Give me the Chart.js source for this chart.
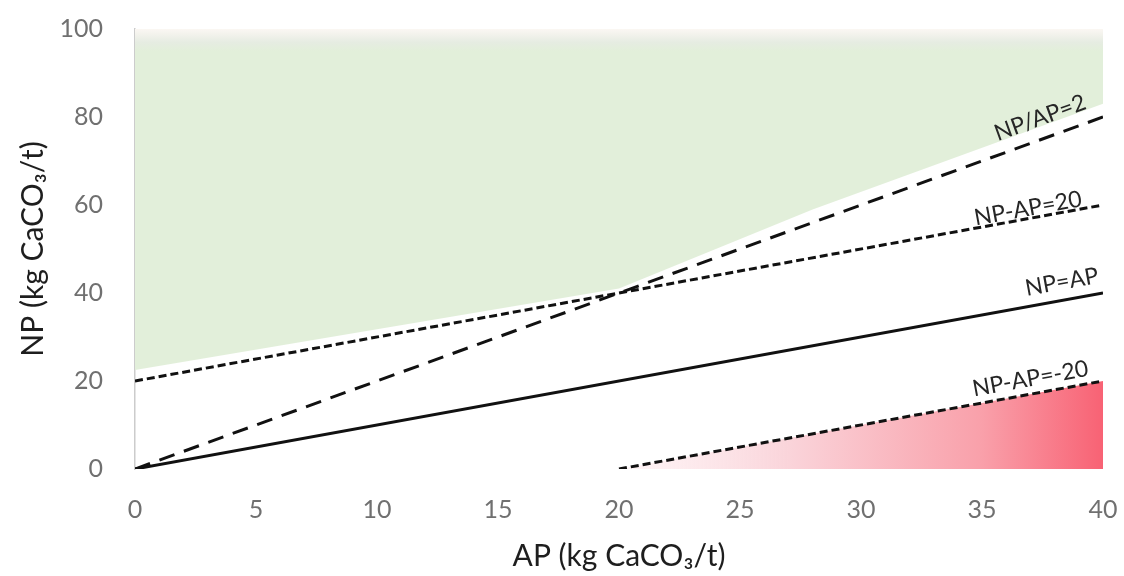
<!DOCTYPE html>
<html>
<head>
<meta charset="utf-8">
<script src="https://cdn.jsdelivr.net/npm/chart.js@4.4.0/dist/chart.umd.min.js"></script>
<style>
  body { margin: 0; background: #fff; }
  #wrap { width: 1124px; height: 576px; }
</style>
</head>
<body>
<div id="wrap"><canvas id="acidChart"></canvas></div>
<script>
// AP on x, NP on y, both kg CaCO3/t
const apEnds = [0, 40];
const npEqualAp = [0, 40];
const npRatio2 = [0, 80];
const npPlus20 = [20, 60];
const apMinus20 = [20, 40];
const npMinus20 = [0, 20];
// lower edge of the green (non acid) zone, just above the lines
const safeAp = [0, 20, 28, 40];
const safeNp = [22.5, 41, 59, 83];

const apTicks = [0, 5, 10, 15, 20, 25, 30, 35, 40];
const npTicks = [0, 20, 40, 60, 80, 100];

// text on the lines, placed at data coords
const lineLabels = ['NP/AP=2', 'NP-AP=20', 'NP=AP', 'NP-AP=-20'];
const labelAp = [37.4, 36.9, 38.3, 37.0];
const labelNp = [79.8, 59.2, 42.5, 20.5];
const labelSlope = [2, 1, 1, 1];

const pts = (xs, ys) => xs.map((x, i) => ({ x: x, y: ys[i] }));

const lineLabelPlugin = {
  id: 'lineLabels',
  afterDatasetsDraw (chart) {
    const { ctx, scales: { x, y } } = chart;
    const pxPerAp = (x.getPixelForValue(40) - x.getPixelForValue(0)) / 40;
    const pxPerNp = (y.getPixelForValue(0) - y.getPixelForValue(100)) / 100;
    ctx.save();
    ctx.font = '23px Lato, "Noto Sans", sans-serif';
    ctx.fillStyle = '#262626';
    ctx.textAlign = 'center';
    ctx.textBaseline = 'middle';
    lineLabels.forEach((text, i) => {
      ctx.save();
      ctx.translate(x.getPixelForValue(labelAp[i]), y.getPixelForValue(labelNp[i]));
      ctx.rotate(-Math.atan(labelSlope[i] * pxPerNp / pxPerAp));
      ctx.fillText(text, 0, 0);
      ctx.restore();
    });
    ctx.restore();
  }
};

function greenFill (context) {
  const { chart } = context;
  const area = chart.chartArea;
  if (!area) return '#e2efda';
  const g = chart.ctx.createLinearGradient(0, area.top, 0, area.bottom);
  g.addColorStop(0, '#fbf7f3');
  g.addColorStop(0.03, '#e6ece2');
  g.addColorStop(0.05, '#e2efda');
  g.addColorStop(1, '#e2efda');
  return g;
}

function redFill (context) {
  const { chart } = context;
  if (!chart.chartArea) return 'rgba(248,100,118,0.6)';
  const x = chart.scales.x;
  const g = chart.ctx.createLinearGradient(x.getPixelForValue(20), 0, x.getPixelForValue(40), 0);
  g.addColorStop(0, 'rgba(253,235,238,0.5)');
  g.addColorStop(0.35, 'rgb(250,212,218)');
  g.addColorStop(0.75, 'rgb(249,160,170)');
  g.addColorStop(1, 'rgb(248,98,116)');
  return g;
}

const tickFont = { family: 'Lato, "Noto Sans", sans-serif', size: 25 };
const titleFont = { family: 'Lato, "Noto Sans", sans-serif', size: 30, lineHeight: 1.2 };

new Chart(document.getElementById('acidChart'), {
  type: 'scatter',
  data: {
    datasets: [
      {
        label: 'safe zone',
        data: pts(safeAp, safeNp),
        showLine: true,
        borderWidth: 0,
        pointRadius: 0,
        fill: 'end',
        backgroundColor: greenFill,
        order: 10
      },
      {
        label: 'acid zone',
        data: pts(apMinus20, npMinus20),
        showLine: true,
        borderWidth: 0,
        pointRadius: 0,
        fill: 'origin',
        backgroundColor: redFill,
        order: 9
      },
      {
        label: 'NP/AP=2',
        data: pts(apEnds, npRatio2),
        showLine: true,
        borderColor: '#111',
        borderWidth: 3,
        borderDash: [16, 10],
        pointRadius: 0,
        order: 1
      },
      {
        label: 'NP-AP=20',
        data: pts(apEnds, npPlus20),
        showLine: true,
        borderColor: '#111',
        borderWidth: 3,
        borderDash: [8, 4],
        pointRadius: 0,
        order: 1
      },
      {
        label: 'NP=AP',
        data: pts(apEnds, npEqualAp),
        showLine: true,
        borderColor: '#111',
        borderWidth: 3,
        pointRadius: 0,
        order: 1
      },
      {
        label: 'NP-AP=-20',
        data: pts(apMinus20, npMinus20),
        showLine: true,
        borderColor: '#111',
        borderWidth: 3,
        borderDash: [8, 4],
        pointRadius: 0,
        order: 1
      }
    ]
  },
  options: {
    responsive: true,
    maintainAspectRatio: false,
    animation: false,
    layout: { padding: { top: 29, right: 21, left: 0, bottom: 0 } },
    plugins: {
      legend: { display: false },
      tooltip: { enabled: false }
    },
    scales: {
      x: {
        type: 'linear',
        min: 0,
        max: 40,
        afterBuildTicks: (scale) => { scale.ticks = apTicks.map(v => ({ value: v })); },
        afterFit: (scale) => {
          scale.height = 107;
          scale.paddingLeft = 0;
          scale.paddingRight = 0;
        },
        grid: { display: false },
        border: { display: false },
        ticks: { font: tickFont, color: '#707070', padding: 18, maxRotation: 0 },
        title: {
          display: true,
          text: 'AP (kg CaCO₃/t)',
          font: titleFont,
          color: '#1e1e1e',
          padding: { top: 0, bottom: 2 }
        }
      },
      y: {
        type: 'linear',
        min: 0,
        max: 100,
        afterBuildTicks: (scale) => { scale.ticks = npTicks.map(v => ({ value: v })); },
        afterFit: (scale) => {
          scale.width = 135;
          scale.paddingTop = 0;
          scale.paddingBottom = 0;
        },
        grid: { display: false },
        border: { display: true, color: '#cccccc', width: 1.5 },
        ticks: { font: tickFont, color: '#707070', padding: 24 },
        title: {
          display: true,
          text: 'NP (kg CaCO₃/t)',
          font: titleFont,
          color: '#1e1e1e',
          padding: { top: 15, bottom: 0 }
        }
      }
    }
  },
  plugins: [lineLabelPlugin]
});
</script>
</body>
</html>
